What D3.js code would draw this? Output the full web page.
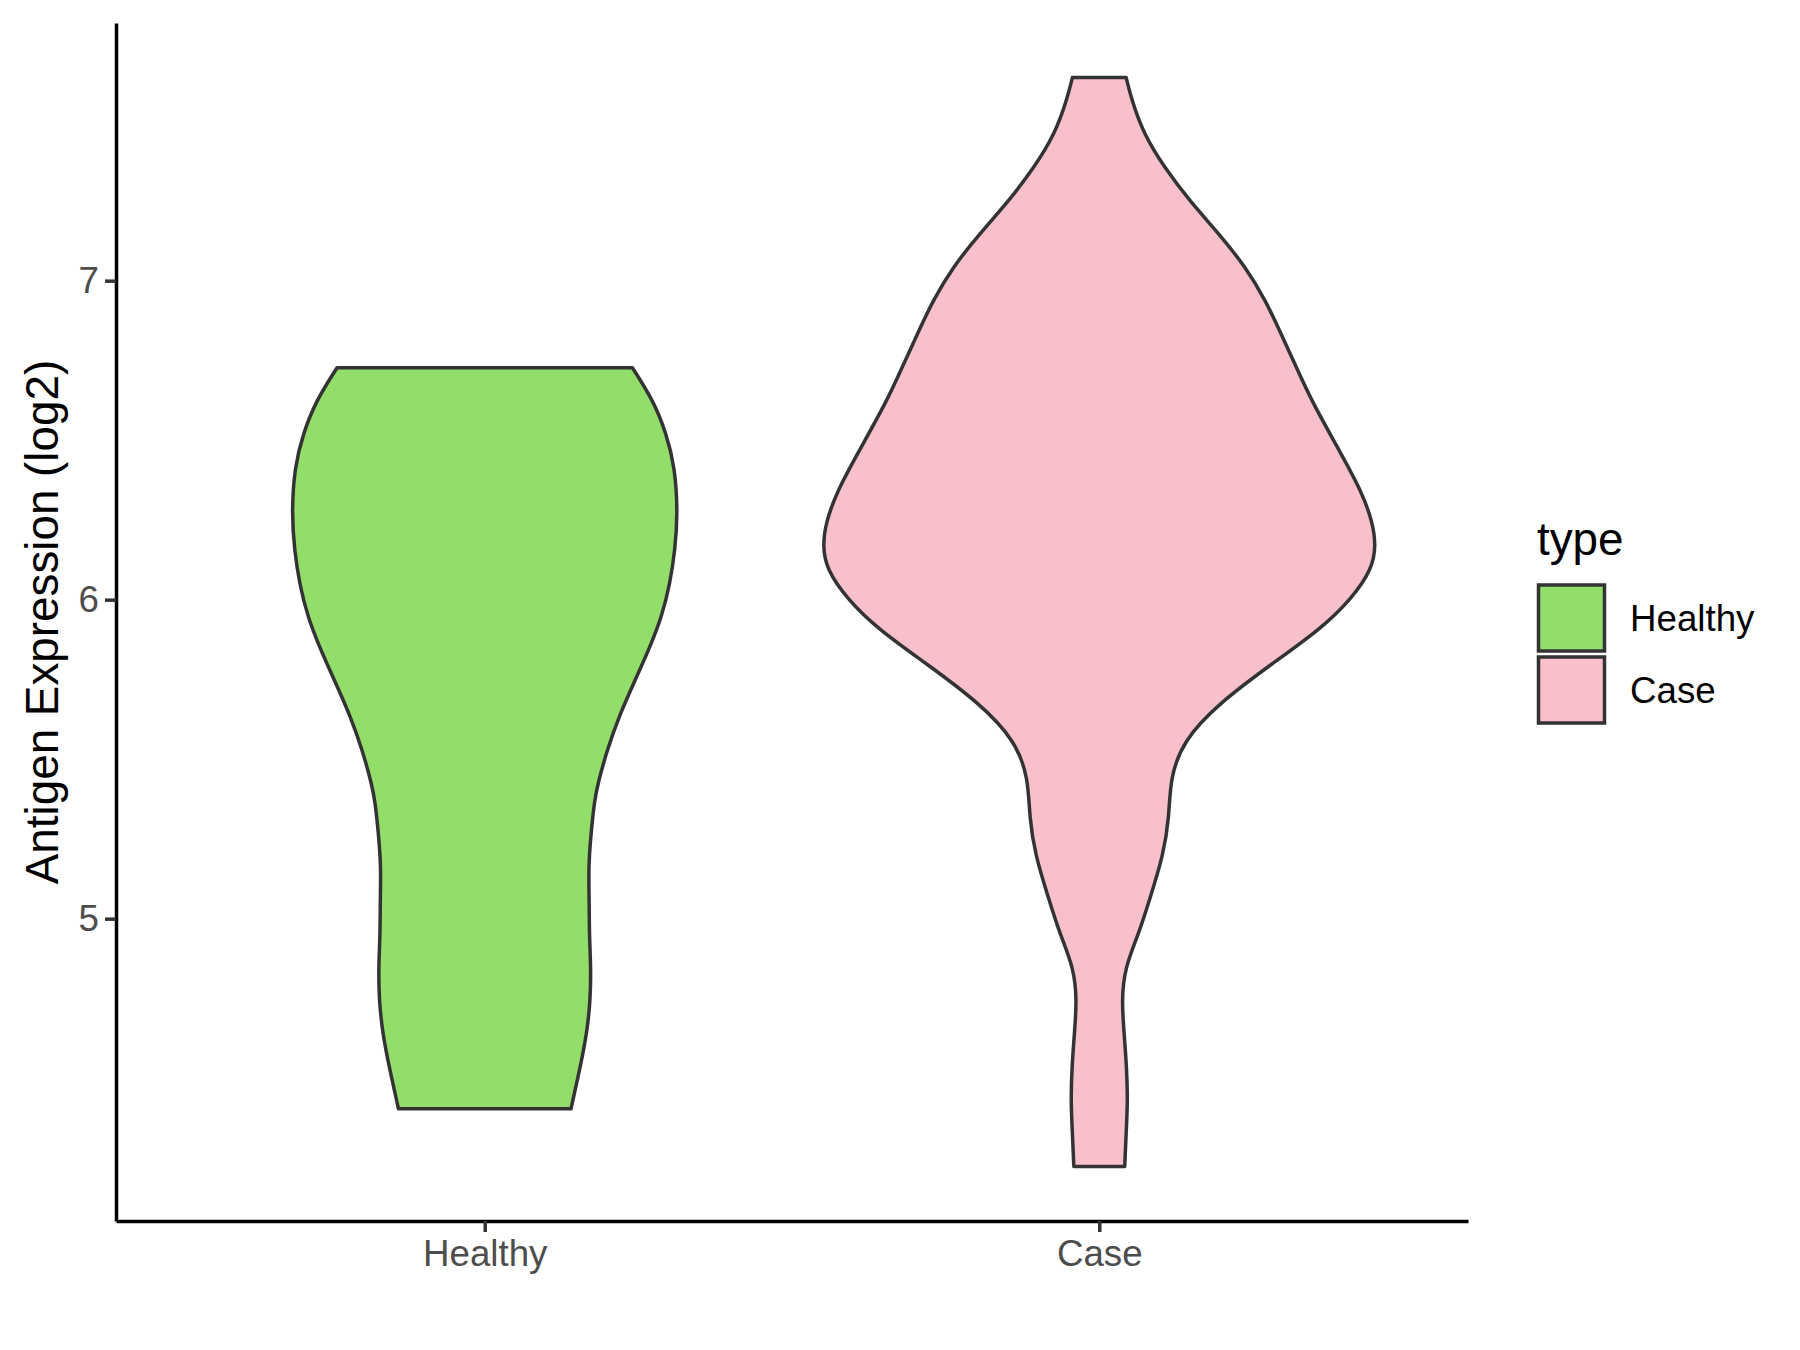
<!DOCTYPE html>
<html>
<head>
<meta charset="utf-8">
<script src="https://cdn.jsdelivr.net/npm/d3@7"></script>
<style>
  body { margin: 0; background: #fff; }
  text { font-family: "Liberation Sans", Arial, sans-serif; }
</style>
</head>
<body>
<div id="chart"></div>
<script>
// values
const categories = ['Healthy', 'Case'];
const fills = ['#93DD6A', '#F8C0CB'];
const yTicks = [5, 6, 7];

// violin outlines: expression value and relative half width (1 = widest)
const healthyY = [6.727, 6.624, 6.520, 6.415, 6.270, 6.154, 6.050, 5.945, 5.840, 5.737, 5.631, 5.527,
  5.423, 5.370, 5.266, 5.160, 5.056, 4.953, 4.846, 4.743, 4.639, 4.533, 4.404];
const healthyWidth = [0.534, 0.610, 0.657, 0.688, 0.698, 0.688, 0.670, 0.640, 0.592, 0.538, 0.484, 0.442,
  0.409, 0.397, 0.384, 0.375, 0.378, 0.378, 0.384, 0.382, 0.369, 0.345, 0.312];

const caseY = [7.637, 7.564, 7.461, 7.355, 7.251, 7.147, 7.042, 6.937, 6.834, 6.728, 6.624, 6.458, 6.339,
  6.241, 6.169, 6.097, 6.002, 5.906, 5.797, 5.677, 5.558, 5.439, 5.318, 5.197, 5.066, 4.953, 4.846,
  4.743, 4.639, 4.533, 4.429, 4.326, 4.223];
const caseWidth = [0.097, 0.118, 0.160, 0.235, 0.326, 0.433, 0.530, 0.602, 0.657, 0.713, 0.767, 0.874, 0.949,
  0.989, 1.0, 0.987, 0.912, 0.798, 0.621, 0.435, 0.303, 0.256, 0.253, 0.231, 0.184, 0.143, 0.092,
  0.081, 0.090, 0.099, 0.103, 0.097, 0.092];

const w = 1800, h = 1350;
const panelLeft = 116, panelRight = 1468, panelTop = 23, panelBottom = 1221;

const svg = d3.select('#chart')
  .append('svg')
  .attr('width', w)
  .attr('height', h);

// scales
const xScale = d3.scalePoint()
  .domain(categories)
  .range([panelLeft, panelRight])
  .padding(0.6);

const allY = healthyY.concat(caseY);
const yMin = d3.min(allY), yMax = d3.max(allY);
const pad = (yMax - yMin) * 0.05;
const yScale = d3.scaleLinear()
  .domain([yMin - pad, yMax + pad])
  .range([panelBottom, panelTop]);

const widthScale = d3.scaleLinear()
  .domain([0, 1])
  .range([0, 0.45 * xScale.step()]);

// violins
const violins = [
  { name: 'Healthy', y: healthyY, width: healthyWidth },
  { name: 'Case', y: caseY, width: caseWidth }
];

violins.forEach((v, i) => {
  const pts = v.y.map((val, j) => [val, v.width[j]]);
  const cx = xScale(v.name);
  const area = d3.area()
    .curve(d3.curveBasis)
    .y(d => yScale(d[0]))
    .x0(d => cx - widthScale(d[1]))
    .x1(d => cx + widthScale(d[1]));
  svg.append('path')
    .datum(pts)
    .attr('d', area)
    .attr('fill', fills[i])
    .attr('stroke', '#333333')
    .attr('stroke-width', 3.5)
    .attr('stroke-linejoin', 'round');
});

// axes
const yAxis = d3.axisLeft(yScale).tickValues(yTicks).tickFormat(d3.format('d'))
  .tickSize(11).tickSizeOuter(0).tickPadding(6);
const gy = svg.append('g')
  .attr('transform', 'translate(' + panelLeft + ',0)')
  .call(yAxis);

const xAxis = d3.axisBottom(xScale).tickSize(11).tickSizeOuter(0).tickPadding(8);
const gx = svg.append('g')
  .attr('transform', 'translate(0,' + panelBottom + ')')
  .call(xAxis);

[gx, gy].forEach(g => {
  g.select('.domain').attr('stroke', '#000').attr('stroke-width', 3.5);
  g.selectAll('.tick line').attr('stroke', '#333333').attr('stroke-width', 3.5);
  g.selectAll('.tick text')
    .attr('fill', '#4D4D4D')
    .style('font-size', '36.7px')
    .style('font-family', '"Liberation Sans", Arial, sans-serif');
});

// y axis title
svg.append('text')
  .attr('transform', 'translate(58,' + ((panelTop + panelBottom) / 2) + ') rotate(-90)')
  .attr('text-anchor', 'middle')
  .style('font-size', '45.8px')
  .attr('fill', '#000')
  .text('Antigen Expression (log2)');

// legend
const legend = svg.append('g').attr('transform', 'translate(1537,0)');
legend.append('text')
  .attr('x', 0)
  .attr('y', 555)
  .style('font-size', '45.8px')
  .text('type');

categories.forEach((c, i) => {
  const y0 = 585 + i * 72;
  legend.append('rect')
    .attr('x', 1.5)
    .attr('y', y0)
    .attr('width', 66)
    .attr('height', 66)
    .attr('fill', fills[i])
    .attr('stroke', '#333333')
    .attr('stroke-width', 3.5);
  legend.append('text')
    .attr('x', 93)
    .attr('y', y0 + 46)
    .style('font-size', '36.7px')
    .text(c);
});
</script>
</body>
</html>
